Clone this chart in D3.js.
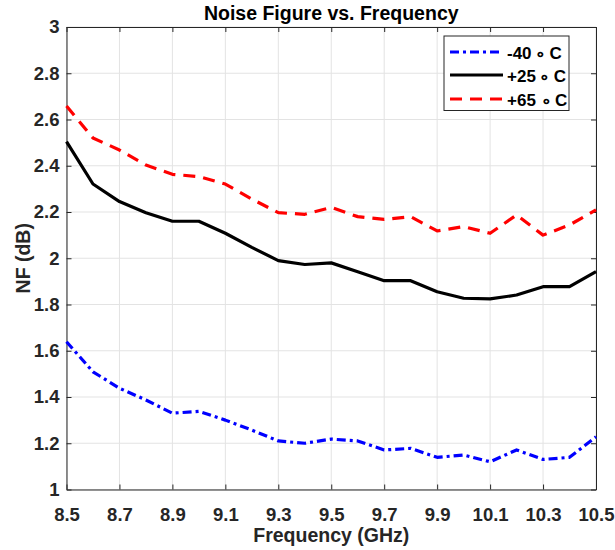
<!DOCTYPE html>
<html><head><meta charset="utf-8">
<script src="https://cdn.jsdelivr.net/npm/d3@7"></script>
<style>body{margin:0;background:#fff}svg{display:block}text{font-family:"Liberation Sans",Arial,Helvetica,sans-serif;font-weight:bold}</style>
</head><body><div id="chart"></div>
<script>
const freq = [8.5,8.6,8.7,8.8,8.9,9.0,9.1,9.2,9.3,9.4,9.5,9.6,9.7,9.8,9.9,10.0,10.1,10.2,10.3,10.4,10.5];
const nfM40 = [1.639,1.509,1.438,1.387,1.330,1.338,1.300,1.257,1.210,1.200,1.218,1.210,1.171,1.178,1.139,1.149,1.120,1.171,1.130,1.139,1.228];
const nfP25 = [2.504,2.321,2.245,2.197,2.160,2.160,2.108,2.047,1.990,1.973,1.980,1.942,1.903,1.903,1.855,1.827,1.824,1.841,1.877,1.877,1.942];
const nfP65 = [2.658,2.520,2.468,2.403,2.363,2.353,2.321,2.256,2.197,2.190,2.220,2.180,2.168,2.180,2.118,2.137,2.108,2.187,2.100,2.144,2.209];
const xTicks = [8.5,8.7,8.9,9.1,9.3,9.5,9.7,9.9,10.1,10.3,10.5];
const yTicks = [1,1.2,1.4,1.6,1.8,2,2.2,2.4,2.6,2.8,3];
const seriesNames = ["-40\u2009\u2218\u2009C","+25\u2009\u2218\u2009C","+65 \u2218\u2009C"];

const W=615,H=550;
const m={l:66.5,r:596,t:27,b:489.5};
const svg=d3.select("#chart").append("svg").attr("width",W).attr("height",H);
const x=d3.scaleLinear().domain([8.5,10.5]).range([m.l,m.r]);
const y=d3.scaleLinear().domain([1,3]).range([m.b,m.t]);

// grid
const g=svg.append("g");
g.selectAll(".gx").data(xTicks).join("line").attr("x1",d=>x(d)).attr("x2",d=>x(d)).attr("y1",m.t).attr("y2",m.b).attr("stroke","#e3e3e3").attr("stroke-width",1);
g.selectAll(".gy").data(yTicks).join("line").attr("y1",d=>y(d)).attr("y2",d=>y(d)).attr("x1",m.l).attr("x2",m.r).attr("stroke","#e3e3e3").attr("stroke-width",1);

// axes
const tl=5;
const axB=d3.axisBottom(x).tickValues(xTicks).tickSizeInner(-tl).tickSizeOuter(0).tickPadding(18.5).tickFormat(d3.format(".1f"));
const axL=d3.axisLeft(y).tickValues(yTicks).tickSizeInner(-tl).tickSizeOuter(0).tickPadding(7).tickFormat(d=>d3.format("~g")(d));
const axT=d3.axisTop(x).tickValues(xTicks).tickSizeInner(-tl).tickSizeOuter(0).tickFormat("");
const axR=d3.axisRight(y).tickValues(yTicks).tickSizeInner(-tl).tickSizeOuter(0).tickFormat("");
function style(sel){sel.select(".domain").attr("stroke","#262626");sel.selectAll(".tick line").attr("stroke","#262626");sel.selectAll(".tick text").attr("fill","#262626").style("font-size","18.5px").style("font-family","'Liberation Sans',Arial,sans-serif").style("font-weight","bold");}
svg.append("g").attr("transform",`translate(0,${m.b})`).call(axB).call(style);
svg.append("g").attr("transform",`translate(${m.l},0)`).call(axL).call(style);
svg.append("g").attr("transform",`translate(0,${m.t})`).call(axT).call(style);
svg.append("g").attr("transform",`translate(${m.r},0)`).call(axR).call(style);

// lines
const line=d3.line().x((d,i)=>x(freq[i])).y(d=>y(d));
const styles=[{c:"#0000ff",dash:"9,4,3,4"},{c:"#000000",dash:null},{c:"#ff0000",dash:"12,8"}];
const data=[nfM40,nfP25,nfP65];
data.forEach((s,i)=>{
  svg.append("path").attr("d",line(s)).attr("fill","none").attr("stroke",styles[i].c).attr("stroke-width",3.2)
    .attr("stroke-dasharray",styles[i].dash).attr("stroke-linejoin","round");
});

// title & labels
svg.append("text").attr("x",(m.l+m.r)/2).attr("y",19.5).attr("text-anchor","middle").style("font-size","19.5px").attr("fill","#000").text("Noise Figure vs. Frequency");
svg.append("text").attr("x",(m.l+m.r)/2).attr("y",541.5).attr("text-anchor","middle").style("font-size","19.5px").attr("fill","#262626").text("Frequency (GHz)");
svg.append("text").attr("transform",`translate(30,${(m.t+m.b)/2}) rotate(-90)`).attr("text-anchor","middle").style("font-size","19.5px").attr("fill","#262626").text("NF (dB)");

// legend
const lg=svg.append("g");
lg.append("rect").attr("x",444).attr("y",36).attr("width",125).attr("height",74.5).attr("fill","#fff").attr("stroke","#262626").attr("stroke-width",1);
const rowY=[52,75,99];
seriesNames.forEach((n,i)=>{
  lg.append("line").attr("x1",450).attr("x2",503).attr("y1",rowY[i]).attr("y2",rowY[i]).attr("stroke",styles[i].c).attr("stroke-width",3.2).attr("stroke-dasharray",styles[i].dash);
  lg.append("text").attr("x",507).attr("y",rowY[i]+6.5).style("font-size","17px").attr("fill","#000").text(n);
});
</script></body></html>
